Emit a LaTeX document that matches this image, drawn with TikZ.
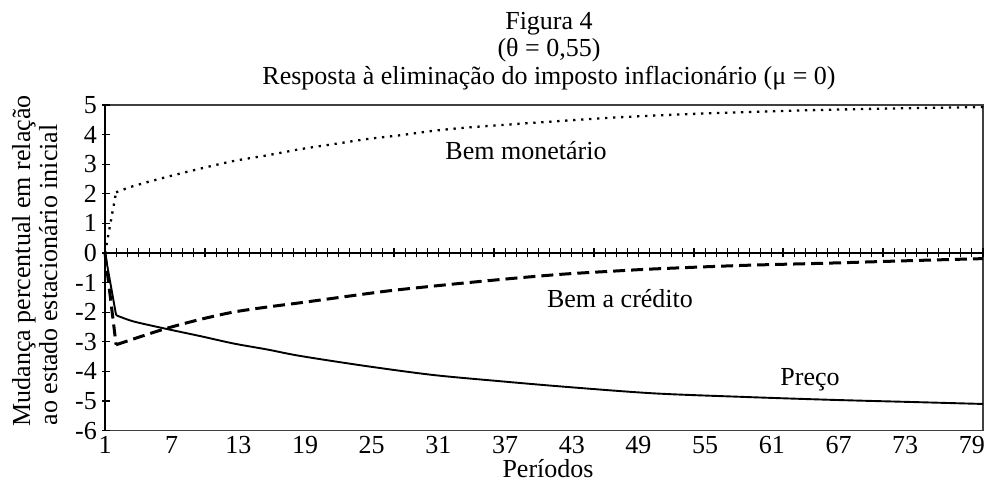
\documentclass[tikz,border=0pt]{standalone}
\usepackage{fontspec}
\setmainfont{Liberation Serif}
\begin{document}
\begin{tikzpicture}[x=1pt,y=1pt,
  every node/.style={inner sep=0pt, font=\fontsize{26}{30}\selectfont},
  frameline/.style={line width=1.1pt, black!75},
  axisline/.style={line width=1.4pt},
  tickmark/.style={line width=1.1pt},
  dotline/.style={line width=2.3pt, dash pattern=on 2.3pt off 5.7pt},
  dashline/.style={line width=3pt, dash pattern=on 12pt off 6pt},
  solidline/.style={line width=1.9pt, line join=round},
]
\useasboundingbox (0,0) rectangle (986,480);
% titles
\node[anchor=base] (t1) at (549,450) {Figura 4};
\node[anchor=base] (t2) at (549,423) {(θ = 0,55)};
\node[anchor=base] (t3) at (549,395) {Resposta à eliminação do imposto inflacionário (μ = 0)};
% axis titles
\node[anchor=base, rotate=90] (yl1) at (30,219) {Mudança percentual em relação};
\node[anchor=base, rotate=90] (yl2) at (57,205) {ao estado estacionário inicial};
\node[anchor=base] (xl) at (548,2.5) {Períodos};
% curve labels
\node[anchor=base] (lmon) at (526,320) {Bem monetário};
\node[anchor=base] (lcred) at (620,172) {Bem a crédito};
\node[anchor=base] (lpreco) at (810,95) {Preço};
\begin{scope}[shift={(93.886,227)}, x=11.114pt, y=29.6pt]
  \draw[frameline] (1,-6) rectangle (80,5);
  \draw[axisline] (1,-6) -- (1,5);
  \draw[axisline] (1,0) -- (80,0);
  \foreach \v in {-6,...,5} {
    \draw[tickmark] (1,\v) ++(-3pt,0) -- ++(8pt,0);
    \node[anchor=east] (yt\v) at ([xshift=-8pt]1,\v) {\v};
  }
  \foreach \p in {1,...,80} {
    \draw[tickmark] (\p,0) ++(0,-4.5pt) -- ++(0,9pt);
  }
  \foreach \p in {1,7,...,79} {
    \node[anchor=base] (xt\p) at ([yshift=-22.5pt]\p,-6) {\p};
  }
  % Bem monetario (dotted)
  \draw[dotline] (1,0) -- (2,2.05);
  \draw[dotline] plot[smooth, tension=0.5] coordinates {(2,2.05) (3.55,2.26) (6.56,2.57) (9.57,2.85) (12.6,3.11) (15.6,3.30) (18.6,3.51) (21.6,3.68) (24.6,3.85) (27.6,3.98) (30.6,4.13) (33.6,4.24) (36.6,4.32) (40.8,4.43) (47,4.58) (54,4.70) (62,4.80) (70,4.87) (80,4.93)};
  % Bem a credito (dashed)
  \draw[dashline] (1,0) -- (2,-3.1);
  \draw[dashline] plot[smooth, tension=0.5] coordinates {(2,-3.1) (4,-2.85) (6.5,-2.55) (9.5,-2.25) (12.5,-2.0) (15.5,-1.83) (18.6,-1.68) (22.5,-1.48) (26.5,-1.28) (30.5,-1.12) (34.5,-0.97) (38.5,-0.83) (42.4,-0.71) (46.4,-0.62) (50.3,-0.54) (58.3,-0.42) (66.3,-0.34) (74.2,-0.25) (80,-0.19)};
  % Preco (solid)
  \draw[solidline] (1,0) -- (2,-2.1);
  \draw[solidline] plot[smooth, tension=0.5] coordinates {(2,-2.1) (3.55,-2.31) (6.6,-2.57) (9.6,-2.81) (12.6,-3.06) (15.6,-3.26) (18.6,-3.48) (24.5,-3.82) (30.5,-4.12) (36.5,-4.33) (42.4,-4.52) (50.3,-4.74) (58.3,-4.86) (66.3,-4.96) (74.2,-5.04) (80,-5.1)};
\end{scope}
\end{tikzpicture}
\end{document}
